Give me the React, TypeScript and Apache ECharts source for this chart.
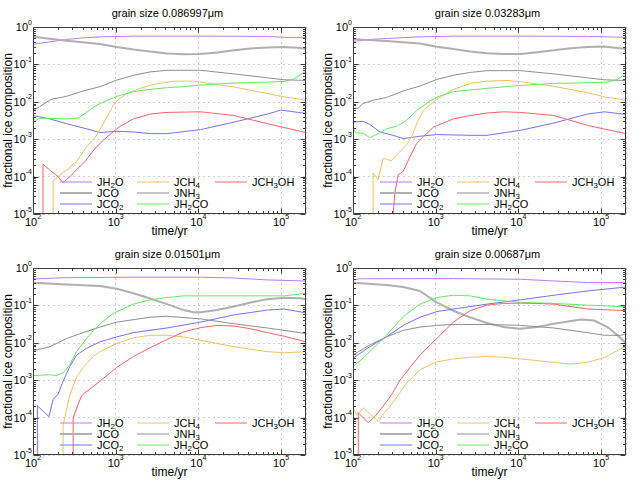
import React, { useEffect, useRef } from "react";
import * as echarts from "echarts";

const FONT = '"Liberation Sans", Arial, Helvetica, sans-serif';

const TITLES = [
  "grain size 0.086997μm",
  "grain size 0.03283μm",
  "grain size 0.01501μm",
  "grain size 0.00687μm",
];
const SPECIES = ["JH2O", "JCO", "JCO2", "JCH4", "JNH3", "JH2CO", "JCH3OH"];
const SPECIES_COLORS = ["#bd7cf0", "#b0b0b0", "#7272ff", "#f4c062", "#8e8e8e", "#62ec62", "#ff6262"];
const SPECIES_WIDTHS = [1, 2, 1, 1, 1, 1, 1];

const X_MIN = 100;
const X_MAX = 200000;
const Y_MIN = 1e-5;
const Y_MAX = 1;
const X_MAJOR = [100, 1000, 10000, 100000];
const Y_MAJOR = [1e-5, 1e-4, 1e-3, 1e-2, 1e-1, 1];
const MINOR_FACTORS = [2, 3, 4, 5, 6, 7, 8, 9];

// ---- panel 1 : grain size 0.086997um  ([time/yr, fraction])
const P1_H2O = [[100, 0.343], [159, 0.4], [254, 0.464], [405, 0.513], [645, 0.545], [1639, 0.568], [10576, 0.57], [68230, 0.56], [108750, 0.53], [200000, 0.513]];
const P1_CO = [[100, 0.545], [254, 0.43], [645, 0.35], [1028, 0.29], [1639, 0.25], [2612, 0.22], [4163, 0.196], [6636, 0.188], [10576, 0.191], [16850, 0.208], [26860, 0.238], [42800, 0.265], [68230, 0.285], [108750, 0.292], [157800, 0.28], [200000, 0.26]];
const P1_CO2 = [[100, 0.0043], [159, 0.0035], [254, 0.0026], [369, 0.0021], [444, 0.0019], [645, 0.0015], [1028, 0.00163], [1639, 0.00156], [2612, 0.00141], [4163, 0.00141], [10576, 0.0018], [26860, 0.00286], [68230, 0.0047], [99100, 0.006], [200000, 0.0049]];
const P1_CH4 = [[175, 1e-9], [175, 7.5e-5], [201, 1.0e-4], [231, 1.3e-4], [279, 1.7e-4], [306, 2.2e-4], [336, 2.5e-4], [386, 4e-4], [444, 6.3e-4], [511, 9e-4], [560, 1.1e-3], [645, 1.8e-3], [778, 3.8e-3], [937, 8e-3], [1028, 0.0106], [1360, 0.0166], [1975, 0.0229], [2868, 0.0292], [5016, 0.0357], [8770, 0.0357], [10576, 0.0337], [26860, 0.0249], [68230, 0.0166], [108750, 0.0136], [200000, 0.011]];
const P1_NH3 = [[100, 0.0058], [120, 0.0074], [159, 0.011], [175, 0.012], [254, 0.014], [405, 0.0195], [645, 0.0254], [1028, 0.038], [1639, 0.051], [2612, 0.063], [4163, 0.0696], [10576, 0.0696], [26860, 0.0557], [68230, 0.0437], [108750, 0.0388], [200000, 0.0372]];
const P1_H2CO = [[100, 0.00286], [120, 0.0036], [159, 0.0036], [254, 0.0035], [352, 0.0037], [444, 0.0052], [535, 0.0071], [645, 0.009], [854, 0.0117], [1028, 0.0139], [1360, 0.0166], [1639, 0.0187], [2612, 0.0215], [4163, 0.0238], [6636, 0.0254], [10576, 0.0281], [26860, 0.0316], [68230, 0.0337], [108750, 0.035], [143900, 0.0411], [200000, 0.0655]];
const P1_CH3OH = [[132, 1e-9], [132, 2.15e-4], [159, 1.5e-4], [201, 1.0e-4], [231, 6.8e-5], [254, 8.5e-5], [280, 1.0e-4], [352, 1.7e-4], [424, 2.5e-4], [488, 3.8e-4], [588, 6.3e-4], [708, 9.4e-4], [937, 1.6e-3], [1129, 2.2e-3], [1639, 3.5e-3], [2612, 4.7e-3], [4163, 5.2e-3], [10576, 5.4e-3], [26860, 4.3e-3], [68230, 2.6e-3], [200000, 1.5e-3]];

// ---- panel 2 : grain size 0.03283um
const P2_H2O = [[100, 0.41], [159, 0.464], [254, 0.493], [645, 0.545], [1639, 0.568], [10576, 0.57], [68230, 0.56], [200000, 0.53]];
const P2_CO = [[100, 0.474], [254, 0.42], [645, 0.364], [1028, 0.298], [1639, 0.258], [2612, 0.22], [4163, 0.199], [6636, 0.191], [10576, 0.191], [16850, 0.211], [26860, 0.238], [42800, 0.269], [68230, 0.292], [108750, 0.3], [200000, 0.258]];
const P2_CO2 = [[100, 0.00286], [132, 0.003], [159, 0.0025], [211, 0.00156], [306, 0.00127], [405, 0.00104], [645, 0.0012], [1028, 0.00133], [2612, 0.00127], [4163, 0.00127], [10576, 0.00173], [26860, 0.0027], [68230, 0.0047], [108750, 0.0054], [200000, 0.0046]];
const P2_CH4 = [[175, 1e-9], [175, 1.25e-4], [183, 1.13e-4], [201, 8.3e-5], [231, 3.1e-4], [254, 2.9e-4], [292, 2.65e-4], [336, 3.8e-4], [386, 5.1e-4], [444, 6.95e-4], [511, 1.15e-3], [588, 2.6e-3], [708, 5.8e-3], [1028, 0.0117], [1639, 0.0215], [2612, 0.031], [4163, 0.0357], [7280, 0.0372], [10576, 0.0343], [26860, 0.0259], [68230, 0.0176], [108750, 0.0136], [200000, 0.011]];
const P2_NH3 = [[100, 0.0067], [115, 0.0067], [132, 0.009], [175, 0.011], [254, 0.013], [405, 0.0195], [645, 0.0264], [1028, 0.0395], [1639, 0.0514], [2612, 0.061], [4163, 0.068], [10576, 0.068], [26860, 0.0557], [68230, 0.0437], [108750, 0.0388], [200000, 0.037]];
const P2_H2CO = [[100, 0.0019], [110, 0.00146], [132, 0.00146], [159, 0.0011], [183, 0.00127], [211, 0.00146], [254, 0.0019], [336, 0.0022], [444, 0.0032], [588, 0.0058], [854, 0.0106], [1129, 0.0144], [1639, 0.0187], [4163, 0.0229], [10576, 0.0275], [26860, 0.031], [68230, 0.0323], [119400, 0.0337], [157800, 0.0395], [200000, 0.0591]];
const P2_CH3OH = [[306, 1e-9], [306, 1e-5], [321, 3.7e-5], [352, 1.13e-4], [405, 1.38e-4], [488, 3.4e-4], [588, 7.7e-4], [708, 1.15e-3], [937, 2.1e-3], [1639, 3.5e-3], [2612, 4.3e-3], [4163, 5.0e-3], [6636, 5.4e-3], [10576, 5.2e-3], [26860, 4.3e-3], [68230, 2.34e-3], [200000, 1.41e-3]];

// ---- panel 3 : grain size 0.01501um
const P3_H2O = [[100, 0.51], [254, 0.55], [1639, 0.568], [10576, 0.568], [26860, 0.54], [68230, 0.48], [200000, 0.45]];
const P3_CO = [[100, 0.403], [254, 0.364], [645, 0.329], [1028, 0.28], [1639, 0.211], [2612, 0.153], [4163, 0.108], [6636, 0.075], [8770, 0.0655], [10576, 0.0655], [16850, 0.075], [26860, 0.094], [42800, 0.12], [68230, 0.147], [108750, 0.16], [173300, 0.156], [200000, 0.147]];
const P3_CO2 = [[113, 1e-9], [113, 2.07e-4], [156, 1.06e-4], [175, 3.1e-4], [201, 4.2e-4], [231, 9.4e-4], [279, 2.34e-3], [336, 4.7e-3], [444, 7.1e-3], [645, 0.0106], [1028, 0.0144], [1639, 0.0187], [4163, 0.0249], [10576, 0.0357], [26860, 0.0557], [68230, 0.075], [108750, 0.08], [200000, 0.063]];
const P3_CH4 = [[231, 1e-9], [231, 6e-5], [254, 1.6e-4], [279, 4e-4], [306, 7e-4], [336, 1.2e-3], [405, 2.2e-3], [535, 4.3e-3], [645, 5.8e-3], [1028, 9.6e-3], [1639, 0.0136], [2612, 0.0159], [4163, 0.0159], [6636, 0.0144], [10576, 0.0117], [26860, 0.00785], [68230, 0.0058], [108750, 0.0054], [200000, 0.0058]];
const P3_NH3 = [[100, 0.0062], [159, 0.0078], [254, 0.013], [405, 0.0187], [645, 0.0264], [1028, 0.0357], [2612, 0.0483], [4163, 0.0514], [10576, 0.0437], [26860, 0.0323], [68230, 0.0249], [200000, 0.0176]];
const P3_H2CO = [[100, 0.00133], [159, 0.0014], [192, 0.00133], [231, 0.00156], [279, 0.0026], [336, 0.0058], [444, 0.013], [588, 0.0264], [854, 0.0535], [1028, 0.068], [1639, 0.108], [2612, 0.141], [4163, 0.162], [6636, 0.18], [10576, 0.18], [108750, 0.18], [200000, 0.211]];
const P3_CH3OH = [[306, 1e-9], [306, 1.0e-4], [352, 2.3e-4], [386, 3.8e-4], [424, 4.6e-4], [511, 6.3e-4], [645, 9.4e-4], [1028, 2.2e-3], [1639, 4.3e-3], [2612, 7.4e-3], [4163, 0.0122], [6636, 0.0195], [10576, 0.0254], [16850, 0.0292], [26860, 0.0281], [42800, 0.0238], [68230, 0.0187], [108750, 0.015], [200000, 0.0106]];

// ---- panel 4 : grain size 0.00687um
const P4_H2O = [[100, 0.47], [120, 0.515], [1639, 0.52], [10576, 0.5], [26860, 0.45], [68230, 0.41], [200000, 0.41]];
const P4_CO = [[100, 0.403], [254, 0.35], [405, 0.31], [645, 0.243], [1028, 0.12], [1639, 0.072], [2612, 0.048], [4163, 0.0337], [6636, 0.0264], [10576, 0.0238], [16850, 0.0264], [26860, 0.0323], [56600, 0.042], [82200, 0.0395], [119400, 0.0264], [157800, 0.0159], [200000, 0.0096]];
const P4_CO2 = [[100, 0.00387], [159, 0.00785], [254, 0.0144], [405, 0.0292], [645, 0.0483], [1028, 0.068], [1639, 0.08], [4163, 0.108], [10576, 0.141], [26860, 0.187], [68230, 0.243], [200000, 0.31]];
const P4_CH4 = [[100, 1.8e-4], [111, 1.2e-4], [134, 1.8e-4], [203, 7.8e-5], [230, 1.2e-4], [280, 2e-4], [340, 3.6e-4], [445, 8.3e-4], [645, 1.9e-3], [1020, 3.1e-3], [1639, 3.7e-3], [2612, 4.1e-3], [4163, 4.3e-3], [6636, 4.1e-3], [10576, 3.7e-3], [26860, 3.0e-3], [42800, 2.7e-3], [68230, 3.0e-3], [108750, 4.0e-3], [200000, 8.2e-3]];
const P4_NH3 = [[100, 0.00473], [159, 0.0087], [254, 0.0144], [405, 0.0215], [645, 0.0264], [1028, 0.0292], [1639, 0.031], [4163, 0.031], [10576, 0.0292], [26860, 0.0249], [68230, 0.0187], [108750, 0.0159], [173300, 0.0159], [200000, 0.0176]];
const P4_H2CO = [[100, 0.00234], [132, 0.00387], [175, 0.0071], [254, 0.0159], [336, 0.0323], [444, 0.0591], [645, 0.108], [1028, 0.162], [1639, 0.187], [2612, 0.18], [4163, 0.147], [10576, 0.12], [26860, 0.113], [68230, 0.102], [200000, 0.092]];
const P4_CH3OH = [[116, 1e-9], [116, 1.35e-4], [153, 7.3e-5], [186, 1.1e-4], [256, 2.7e-4], [303, 4.6e-4], [370, 1e-3], [490, 2.2e-3], [645, 4.7e-3], [854, 8.7e-3], [1028, 0.013], [1639, 0.0357], [2612, 0.0724], [4163, 0.102], [6636, 0.113], [10576, 0.115], [16850, 0.113], [26860, 0.108], [68230, 0.08], [200000, 0.0724]];

const PANELS = [
  [P1_H2O, P1_CO, P1_CO2, P1_CH4, P1_NH3, P1_H2CO, P1_CH3OH],
  [P2_H2O, P2_CO, P2_CO2, P2_CH4, P2_NH3, P2_H2CO, P2_CH3OH],
  [P3_H2O, P3_CO, P3_CO2, P3_CH4, P3_NH3, P3_H2CO, P3_CH3OH],
  [P4_H2O, P4_CO, P4_CO2, P4_CH4, P4_NH3, P4_H2CO, P4_CH3OH],
];

// ---- layout
const GRID_LEFTS = [33, 353, 33, 353];
const GRID_TOPS = [27, 27, 268, 268];
const GRID_W = 273;
const GRID_H = 187;
const LEG_COLS = [[0, 1, 2], [3, 4, 5], [6]];
const LEG_COL_X = [27, 104, 182];
const LEG_ROW_Y = [-30.5, -19.5, -8.5];
const LEG_HALF = 7;
const FRAME = "#3c3c3c";
const GRID_LINE = "#c4c4c4";

const chem = (name: string) =>
  ("{n|" + name.replace(/(\d)/g, "}{s|$1}{n|") + "}").replace(/\{n\|\}/g, "");

// normal text centred in a 14px line, subscript sits on the line's bottom
const CHEM_RICH = {
  n: { fontSize: 11, fontFamily: FONT, color: "#000", lineHeight: 14, verticalAlign: "middle" },
  s: { fontSize: 8, fontFamily: FONT, color: "#000", lineHeight: 14, verticalAlign: "bottom" },
};

// base centred in a 17px line, exponent on the line's top
const POW_RICH = {
  b: { fontSize: 11, fontFamily: FONT, color: "#000", lineHeight: 17, verticalAlign: "middle" },
  e: { fontSize: 7, fontFamily: FONT, color: "#000", lineHeight: 8, verticalAlign: "top" },
};

const powLabel = (v: number) => {
  const l = Math.log10(v);
  const r = Math.round(l);
  if (Math.abs(l - r) > 1e-6) return "";
  return `{b|10}{e|${r}}`;
};

function tickItems() {
  const items: number[][] = [[X_MIN, Y_MIN, 2, 0]];
  X_MAJOR.forEach((d) => {
    items.push([d, Y_MIN, 0, 5]);
    MINOR_FACTORS.forEach((f) => {
      const v = d * f;
      if (v < X_MAX) items.push([v, Y_MIN, 0, 2.5]);
    });
  });
  Y_MAJOR.forEach((d) => {
    items.push([X_MIN, d, 1, 5]);
    if (d < Y_MAX) MINOR_FACTORS.forEach((f) => items.push([X_MIN, d * f, 1, 2.5]));
  });
  return items;
}

function renderTick(params: any, api: any) {
  const cs = params.coordSys;
  const kind = api.value(2);
  const len = api.value(3);
  const style = { stroke: FRAME, lineWidth: 1, fill: "none" };
  const x0 = Math.round(cs.x) + 0.5;
  const y0 = Math.round(cs.y) + 0.5;
  const x1 = Math.round(cs.x + cs.width) - 0.5;
  const y1 = Math.round(cs.y + cs.height) - 0.5;
  if (kind === 2) {
    return { type: "rect", shape: { x: x0, y: y0, width: x1 - x0, height: y1 - y0 }, style };
  }
  const p = api.coord([api.value(0), api.value(1)]);
  if (kind === 0) {
    const x = Math.round(p[0]) + 0.5;
    return {
      type: "group",
      children: [
        { type: "line", shape: { x1: x, y1: y1, x2: x, y2: y1 - len }, style },
        { type: "line", shape: { x1: x, y1: y0, x2: x, y2: y0 + len }, style },
      ],
    };
  }
  const y = Math.round(p[1]) + 0.5;
  return {
    type: "group",
    children: [
      { type: "line", shape: { x1: x0, y1: y, x2: x0 + len, y2: y }, style },
      { type: "line", shape: { x1: x1, y1: y, x2: x1 - len, y2: y }, style },
    ],
  };
}

function buildOption() {
  const idx = [0, 1, 2, 3];
  const grid = idx.map((i) => ({
    left: GRID_LEFTS[i],
    top: GRID_TOPS[i],
    width: GRID_W,
    height: GRID_H,
    show: false,
    containLabel: false,
    outerBoundsMode: "none",
  }));
  const splitLine = { show: true, lineStyle: { color: GRID_LINE, type: [2, 3], width: 0.8 } };
  const xAxis = idx.map((i) => ({
    type: "log",
    logBase: 10,
    gridIndex: i,
    min: X_MIN,
    max: X_MAX,
    axisLine: { show: false },
    axisTick: { show: false },
    splitLine,
    axisLabel: { formatter: powLabel, margin: -1, rich: POW_RICH, color: "#000", hideOverlap: false },
    name: "time/yr",
    nameLocation: "middle",
    nameGap: 11,
    nameMoveOverlap: false,
    nameTextStyle: { fontFamily: FONT, fontSize: 12, color: "#000" },
  }));
  const yAxis = idx.map((i) => ({
    type: "log",
    logBase: 10,
    gridIndex: i,
    min: Y_MIN,
    max: Y_MAX,
    axisLine: { show: false },
    axisTick: { show: false },
    splitLine,
    axisLabel: { formatter: powLabel, margin: 1, rich: POW_RICH, color: "#000", hideOverlap: false },
    name: "fractional ice composition",
    nameLocation: "middle",
    nameGap: 19.5,
    nameMoveOverlap: false,
    nameTextStyle: { fontFamily: FONT, fontSize: 12, color: "#000" },
  }));
  const series: any[] = [];
  idx.forEach((i) => {
    PANELS[i].forEach((data, s) => {
      series.push({
        type: "line",
        name: SPECIES[s],
        xAxisIndex: i,
        yAxisIndex: i,
        data,
        symbol: "none",
        showSymbol: false,
        silent: true,
        clip: true,
        lineStyle: { color: SPECIES_COLORS[s], width: SPECIES_WIDTHS[s] },
        itemStyle: { color: SPECIES_COLORS[s] },
        emphasis: { disabled: true },
      });
    });
    series.push({
      type: "custom",
      name: "frame" + i,
      xAxisIndex: i,
      yAxisIndex: i,
      data: tickItems(),
      renderItem: renderTick,
      silent: true,
      clip: false,
      z: 5,
    });
  });
  const legend: any[] = [];
  idx.forEach((i) => {
    LEG_COLS.forEach((col, c) => {
      col.forEach((sp, r) => {
        legend.push({
          show: true,
          data: [SPECIES[sp]],
          left: GRID_LEFTS[i] + LEG_COL_X[c],
          top: GRID_TOPS[i] + GRID_H + LEG_ROW_Y[r] - LEG_HALF,
          orient: "horizontal",
          padding: 0,
          icon: "rect",
          itemWidth: 32,
          itemHeight: SPECIES_WIDTHS[sp],
          itemGap: 0,
          selectedMode: false,
          itemStyle: { color: SPECIES_COLORS[sp], borderWidth: 0 },
          formatter: chem,
          textStyle: { fontFamily: FONT, fontSize: 11, color: "#000", rich: CHEM_RICH },
        });
      });
    });
  });
  const graphic = idx.map((i) => ({
    type: "text",
    x: GRID_LEFTS[i] + GRID_W / 2 - 2,
    y: GRID_TOPS[i] - 14,
    silent: true,
    style: {
      text: TITLES[i],
      font: `11px ${FONT}`,
      fill: "#000",
      textAlign: "center",
      textVerticalAlign: "middle",
    },
  }));
  return {
    animation: false,
    backgroundColor: "#fff",
    textStyle: { fontFamily: FONT },
    grid,
    xAxis,
    yAxis,
    legend,
    graphic,
    series,
  };
}

export default function App() {
  const ref = useRef<HTMLDivElement>(null);
  useEffect(() => {
    const chart = echarts.init(ref.current as HTMLDivElement, null, { renderer: "svg" });
    chart.setOption(buildOption() as any);
    return () => chart.dispose();
  }, []);
  return (
    <div
      ref={ref}
      style={{ position: "absolute", left: 0, top: 0, width: 640, height: 480, background: "#fff" }}
    />
  );
}
